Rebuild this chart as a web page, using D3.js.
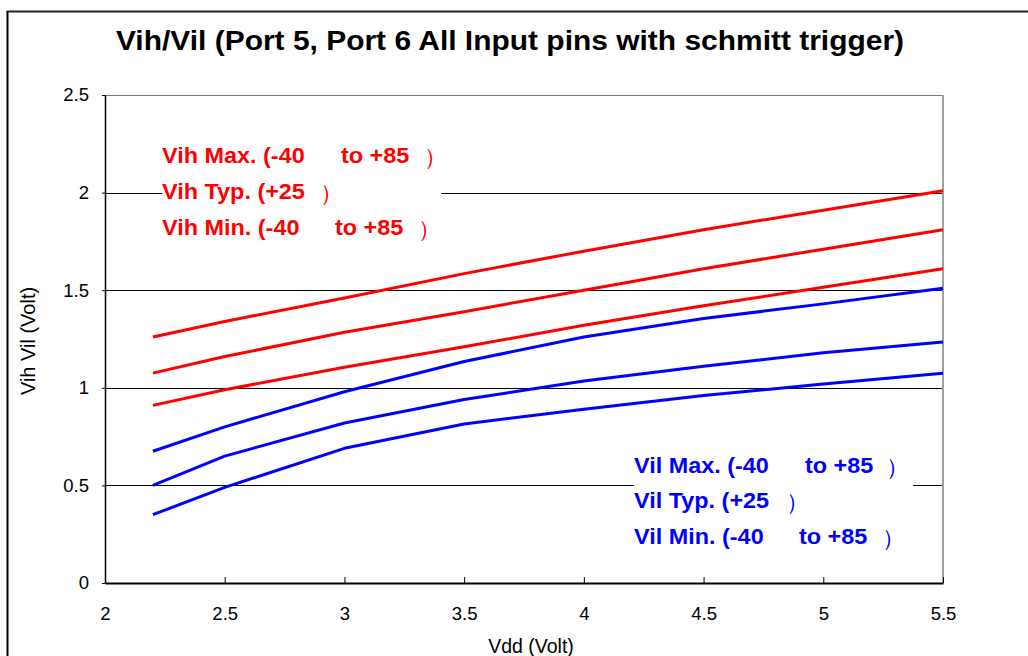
<!DOCTYPE html>
<html>
<head>
<meta charset="utf-8">
<script src="https://cdn.jsdelivr.net/npm/d3@7/dist/d3.min.js"></script>
<style>
  html, body { margin: 0; padding: 0; background: #fff; }
  svg { display: block; }
  text { font-family: "Liberation Sans", Arial, sans-serif; }
</style>
</head>
<body>
<svg id="chart" width="1028" height="656"></svg>
<script>
// ---- data ----
const title = "Vih/Vil (Port 5, Port 6 All Input pins with schmitt trigger)";
const xTitle = "Vdd (Volt)";
const yTitle = "Vih Vil (Volt)";
const vdd = [2.2, 2.5, 3, 3.5, 4, 4.5, 5, 5.5];
const vihMax = [1.26, 1.34, 1.46, 1.585, 1.70, 1.81, 1.91, 2.01];
const vihTyp = [1.075, 1.16, 1.285, 1.39, 1.50, 1.61, 1.71, 1.81];
const vihMin = [0.91, 0.99, 1.105, 1.21, 1.32, 1.42, 1.515, 1.61];
const vilMax = [0.675, 0.80, 0.98, 1.135, 1.26, 1.355, 1.43, 1.51];
const vilTyp = [0.50, 0.65, 0.82, 0.94, 1.035, 1.11, 1.18, 1.235];
const vilMin = [0.35, 0.49, 0.69, 0.815, 0.89, 0.96, 1.02, 1.075];
const xTicks = [2, 2.5, 3, 3.5, 4, 4.5, 5, 5.5];
const yTicks = [0, 0.5, 1, 1.5, 2, 2.5];
const vihLegend = [["Vih Max. (-40", "to +85", "\uFF09"], ["Vih Typ. (+25", "\uFF09"], ["Vih Min. (-40", "to +85", "\uFF09"]];
const vilLegend = [["Vil Max. (-40", "to +85", "\uFF09"], ["Vil Typ. (+25", "\uFF09"], ["Vil Min. (-40", "to +85", "\uFF09"]];

// ---- layout ----
const svg = d3.select("#chart");
const L = 105, R = 943, T = 95, B = 583;
const x = d3.scaleLinear().domain([2, 5.5]).range([L, R]);
const y = d3.scaleLinear().domain([0, 2.5]).range([B, T]);

// outer frame
svg.append("line").attr("x1", 7.5).attr("x2", 7.5).attr("y1", 11).attr("y2", 656)
  .attr("stroke", "#000").attr("stroke-width", 2);
svg.append("line").attr("x1", 6.5).attr("x2", 1028).attr("y1", 11.5).attr("y2", 11.5)
  .attr("stroke", "#222").attr("stroke-width", 2);

// title
svg.append("text").attr("transform", "translate(510,50) scale(1.07,1)")
  .attr("text-anchor", "middle").attr("font-size", 28).attr("font-weight", "bold")
  .attr("fill", "#000").text(title);

// gridlines
svg.append("g").selectAll("line").data(yTicks.filter(v => v > 0 && v < 2.5)).join("line")
  .attr("x1", L).attr("x2", R).attr("y1", d => Math.round(y(d)) + 0.5).attr("y2", d => Math.round(y(d)) + 0.5)
  .attr("stroke", "#000").attr("stroke-width", 1);
// top & right border
svg.append("line").attr("x1", L).attr("x2", R).attr("y1", T + 0.5).attr("y2", T + 0.5)
  .attr("stroke", "#777").attr("stroke-width", 1);
svg.append("line").attr("x1", R).attr("x2", R).attr("y1", T).attr("y2", B)
  .attr("stroke", "#a0a0a0").attr("stroke-width", 2);

// axes
const xAxis = d3.axisBottom(x).tickValues(xTicks).tickSizeInner(-6).tickSizeOuter(0).tickPadding(24)
  .tickFormat(d3.format("~g"));
const gx = svg.append("g").attr("transform", `translate(0,${B})`).call(xAxis);
gx.select(".domain").attr("stroke", "#000").attr("stroke-width", 2);
gx.selectAll(".tick line").attr("stroke", "#000").attr("stroke-width", 1);
gx.selectAll("text").attr("font-size", 18.5).attr("fill", "#000")
  .attr("font-family", "'Liberation Sans', Arial, sans-serif");

const yAxis = d3.axisLeft(y).tickValues(yTicks).tickSize(3).tickSizeOuter(0).tickPadding(13)
  .tickFormat(d3.format("~g"));
const gy = svg.append("g").attr("transform", `translate(${L},0)`).call(yAxis);
gy.select(".domain").attr("stroke", "#000").attr("stroke-width", 1.5);
gy.selectAll(".tick line").attr("stroke", "#000");
gy.selectAll("text").attr("font-size", 18.5).attr("fill", "#000")
  .attr("font-family", "'Liberation Sans', Arial, sans-serif");

// axis titles
svg.append("text").attr("x", 531).attr("y", 653).attr("text-anchor", "middle")
  .attr("font-size", 19.5).attr("fill", "#000").text(xTitle);
svg.append("text").attr("transform", "translate(35,341) rotate(-90)").attr("text-anchor", "middle")
  .attr("font-size", 20).attr("fill", "#000").text(yTitle);

// lines
const line = d3.line().x((d, i) => x(vdd[i])).y(d => y(d));
const series = [
  { v: vihMax, c: "#FF0000" }, { v: vihTyp, c: "#FF0000" }, { v: vihMin, c: "#FF0000" },
  { v: vilMax, c: "#0000FF" }, { v: vilTyp, c: "#0000FF" }, { v: vilMin, c: "#0000FF" }
];
svg.append("g").selectAll("path").data(series).join("path")
  .attr("d", d => line(d.v)).attr("fill", "none").attr("stroke", d => d.c)
  .attr("stroke-width", 3).attr("stroke-linejoin", "round");

// legends
function legend(rows, color, x0, box, baselines, pieceX) {
  svg.append("rect").attr("x", box[0]).attr("y", box[1]).attr("width", box[2]).attr("height", box[3]).attr("fill", "#fff");
  rows.forEach((parts, r) => {
    parts.forEach((p, k) => {
      const isParen = p === "\uFF09";
      svg.append("text")
        .attr("transform", `translate(${x0 + pieceX[r][k]},${baselines[r] + (isParen ? 2 : 0)}) scale(${isParen ? 1 : 1.05},1)`)
        .attr("font-size", isParen ? 23 : 22.3).attr("font-weight", isParen ? "normal" : "bold")
        .attr("font-family", isParen ? "'Noto Sans CJK SC', sans-serif" : "'Liberation Sans', Arial, sans-serif")
        .attr("fill", color).text(p);
    });
  });
}
legend(vihLegend, "#FF0000", 162, [162, 140, 279, 108], [163, 199, 235],
  [[0, 179, 262], [0, 158], [0, 173, 256]]);
legend(vilLegend, "#0000FF", 634, [634, 450, 279, 108], [473, 508, 544],
  [[0, 171, 252], [0, 152], [0, 165, 248]]);
</script>
</body>
</html>
